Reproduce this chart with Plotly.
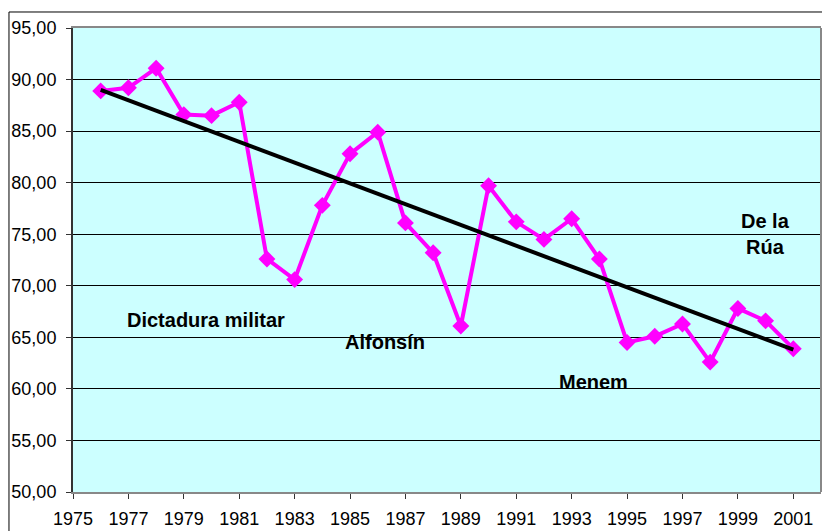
import plotly.graph_objects as go

years = list(range(1976, 2002))
values = [88.9, 89.2, 91.1, 86.6, 86.5, 87.8, 72.6, 70.6, 77.8, 82.8, 84.9, 76.1,
          73.2, 66.1, 79.7, 76.2, 74.5, 76.5, 72.6, 64.5, 65.1, 66.3, 62.6, 67.8,
          66.6, 63.9]
trend_years = [1976, 2001]
trend_values = [89.0, 63.8]
periods = ["Dictadura militar", "Alfonsín", "Menem", "De la<br>Rúa"]
period_x = [1979.8, 1986.25, 1993.8, 2000.0]
period_y = [66.65, 64.5, 60.7, 75.0]

fig = go.Figure()
fig.add_trace(go.Scatter(x=years, y=values, mode="lines+markers",
                         line=dict(color="#FF00FF", width=4),
                         marker=dict(symbol="diamond", size=13, color="#FF00FF"),
                         showlegend=False, cliponaxis=False))
fig.add_trace(go.Scatter(x=trend_years, y=trend_values, mode="lines",
                         line=dict(color="black", width=4), showlegend=False))

for t, x, y in zip(periods, period_x, period_y):
    fig.add_annotation(x=x, y=y, text="<b>" + t + "</b>", showarrow=False,
                       font=dict(family="Arial, Liberation Sans", size=20, color="black"))

fig.update_layout(
    width=822, height=523,
    margin=dict(l=65, r=9, t=20, b=39, autoexpand=False),
    plot_bgcolor="#CCFFFF", paper_bgcolor="white",
    separators=",.",
    font=dict(family="Arial, Liberation Sans", size=18, color="black"),
)
fig.update_xaxes(range=[1975, 2002], tickvals=list(range(1975, 2002, 2)),
                 ticks="outside", ticklen=5, tickcolor="#333", showgrid=False,
                 showline=True, linecolor="#888", linewidth=2, mirror=True,
                 zeroline=False, tickfont=dict(size=18), automargin=False,
                 ticklabelstandoff=4)
fig.update_yaxes(range=[50, 95], dtick=5, tickformat=".2f",
                 ticks="outside", ticklen=5, tickcolor="#333",
                 showgrid=True, gridcolor="black", gridwidth=1,
                 showline=True, linecolor="#333", linewidth=2, mirror=False,
                 zeroline=False, tickfont=dict(size=18), automargin=False,
                 ticklabelstandoff=6)
fig.add_shape(type="line", xref="paper", yref="paper", x0=1, x1=1, y0=0, y1=1,
              line=dict(color="#888", width=2))
fig.add_shape(type="rect", xref="paper", yref="paper", x0=-0.0856, x1=1.05, y0=-0.2, y1=1.0345,
              line=dict(color="black", width=1), fillcolor="rgba(0,0,0,0)")
fig.write_html("out.html")
